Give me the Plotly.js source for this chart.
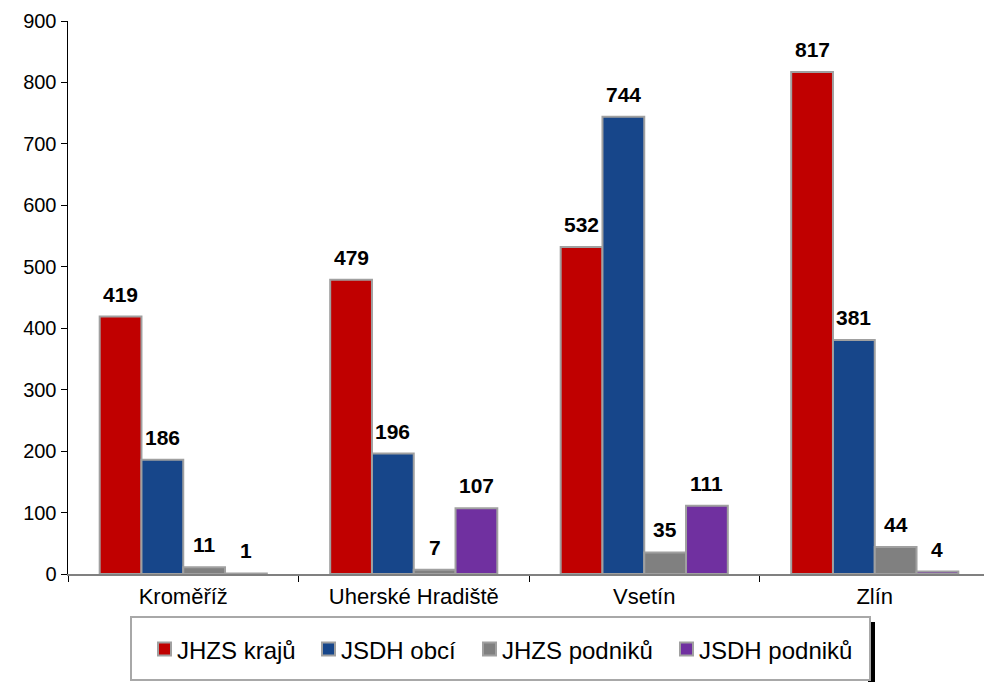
<!DOCTYPE html>
<html><head><meta charset="utf-8">
<script src="https://cdn.plot.ly/plotly-3.0.1.min.js"></script>
<style>html,body{margin:0;padding:0;background:#fff;overflow:hidden}</style>
</head><body><div id="chart" style="width:984px;height:682px"></div>
<script>
const categories = ["Kroměříž", "Uherské Hradiště", "Vsetín", "Zlín"];
const seriesNames = ["JHZS krajů", "JSDH obcí", "JHZS podniků", "JSDH podniků"];
const jhzsKraju = [419, 479, 532, 817];
const jsdhObci = [186, 196, 744, 381];
const jhzsPodniku = [11, 7, 35, 44];
const jsdhPodniku = [1, 107, 111, 4];
const seriesValues = [jhzsKraju, jsdhObci, jhzsPodniku, jsdhPodniku];
const colors = ["#C00000", "#17468A", "#808080", "#7030A0"];

const FONT = "Liberation Sans, Arial, sans-serif";
const L = 68, T = 21, W = 916, H = 553;
const catPx = 230.5;
const bargap = 0.275;
const barPx = catPx * (1 - bargap) / 4;

const traces = seriesValues.map((vals, i) => ({
  type: "bar", name: seriesNames[i], x: categories, y: vals,
  marker: {color: colors[i], line: {color: "#A0A0A0", width: 2}},
  hoverinfo: "none", showlegend: false
}));

const annotations = [];
seriesValues.forEach((vals, i) => {
  vals.forEach((v, j) => {
    annotations.push({
      x: categories[j], y: v, xref: "x", yref: "y", text: "<b>" + v + "</b>",
      showarrow: false, xshift: (i - 1.5) * barPx, yanchor: "bottom", yshift: 9,
      font: {family: FONT, size: 21, color: "#000"}
    });
  });
});

const px2x = p => (p - L) / W;
const px2y = p => (T + H - p) / H;

const shapes = [
  {type: "rect", xref: "paper", yref: "paper", x0: px2x(868), x1: px2x(875), y0: px2y(622), y1: px2y(684),
   fillcolor: "#000", line: {width: 0}, layer: "below"},
  {type: "rect", xref: "paper", yref: "paper", x0: px2x(131), x1: px2x(870), y0: px2y(617), y1: px2y(680),
   fillcolor: "#fff", line: {color: "#A8A8A8", width: 2}, layer: "below"}
];

// custom legend (positions are layout, names/colors from the series)
const legendFontSize = 24;
const legendX = [158, 322, 483, 680];
const legendY = 650, sq = 13;
seriesNames.forEach((name, i) => {
  const lx = legendX[i];
  shapes.push({type: "rect", xref: "paper", yref: "paper",
    x0: px2x(lx), x1: px2x(lx + sq), y0: px2y(legendY - 1 + sq / 2), y1: px2y(legendY - 1 - sq / 2),
    fillcolor: colors[i], line: {color: "#A0A0A0", width: 2}});
  annotations.push({xref: "paper", yref: "paper", x: px2x(lx + sq + 4), y: px2y(legendY),
    xanchor: "left", yanchor: "middle", text: name, showarrow: false,
    font: {family: FONT, size: legendFontSize, color: "#000"}});
});

const layout = {
  width: 984, height: 682,
  margin: {l: L, r: 0, t: T, b: 682 - T - H},
  paper_bgcolor: "#fff", plot_bgcolor: "#fff",
  barmode: "group", bargap: bargap, bargroupgap: 0,
  font: {family: FONT, size: 20, color: "#000"},
  xaxis: {
    range: [-0.5, -0.5 + W / catPx], showline: true, linecolor: "#808080", linewidth: 1.5,
    ticks: "outside", tickson: "boundaries", ticklen: 6, tickcolor: "#000",
    tickfont: {size: 22}, showgrid: false, zeroline: false, fixedrange: true, ticklabelstandoff: 2
  },
  yaxis: {
    range: [0, 900], dtick: 100, showline: true, linecolor: "#000", linewidth: 1.5,
    ticks: "outside", ticklen: 6, tickcolor: "#000", showgrid: false, zeroline: false,
    tickfont: {size: 20}, fixedrange: true
  },
  showlegend: false,
  annotations: annotations,
  shapes: shapes
};

Plotly.newPlot("chart", traces, layout, {displayModeBar: false, staticPlot: true});
</script></body></html>
